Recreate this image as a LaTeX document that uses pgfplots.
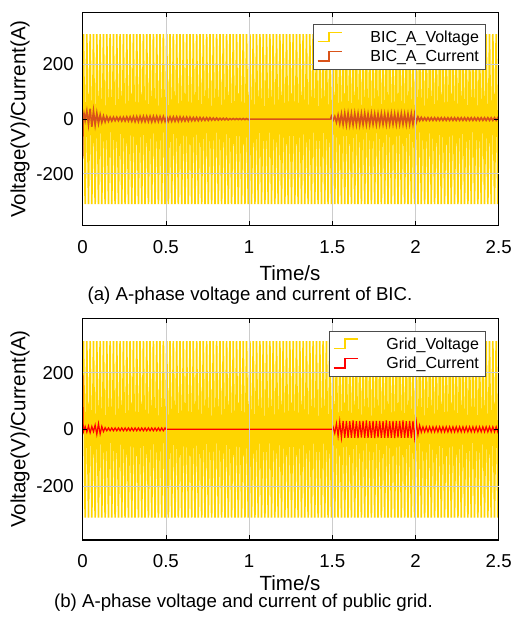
\documentclass[border=0pt]{standalone}
\usepackage{pgfplots}
\pgfplotsset{compat=1.18}
\usepackage{pgfplotstable}
\usepackage{fontspec}
\setmainfont{Liberation Sans}
\definecolor{volt}{RGB}{255,213,0}
\definecolor{bicc}{RGB}{217,83,25}
\definecolor{gridc}{RGB}{255,0,0}

\pgfplotstableread[row sep=\\]{t v\\
0 0\\
0.005 311\\0.015 -311\\0.025 311\\0.035 -311\\0.045 311\\0.055 -311\\0.065 311\\0.075 -311\\0.085 311\\0.095 -311\\
0.105 311\\0.115 -311\\0.125 311\\0.135 -311\\0.145 311\\0.155 -311\\0.165 311\\0.175 -311\\0.185 311\\0.195 -311\\
0.205 311\\0.215 -311\\0.225 311\\0.235 -311\\0.245 311\\0.255 -311\\0.265 311\\0.275 -311\\0.285 311\\0.295 -311\\
0.305 311\\0.315 -311\\0.325 311\\0.335 -311\\0.345 311\\0.355 -311\\0.365 311\\0.375 -311\\0.385 311\\0.395 -311\\
0.405 311\\0.415 -311\\0.425 311\\0.435 -311\\0.445 311\\0.455 -311\\0.465 311\\0.475 -311\\0.485 311\\0.495 -311\\
0.505 311\\0.515 -311\\0.525 311\\0.535 -311\\0.545 311\\0.555 -311\\0.565 311\\0.575 -311\\0.585 311\\0.595 -311\\
0.605 311\\0.615 -311\\0.625 311\\0.635 -311\\0.645 311\\0.655 -311\\0.665 311\\0.675 -311\\0.685 311\\0.695 -311\\
0.705 311\\0.715 -311\\0.725 311\\0.735 -311\\0.745 311\\0.755 -311\\0.765 311\\0.775 -311\\0.785 311\\0.795 -311\\
0.805 311\\0.815 -311\\0.825 311\\0.835 -311\\0.845 311\\0.855 -311\\0.865 311\\0.875 -311\\0.885 311\\0.895 -311\\
0.905 311\\0.915 -311\\0.925 311\\0.935 -311\\0.945 311\\0.955 -311\\0.965 311\\0.975 -311\\0.985 311\\0.995 -311\\
1.005 311\\1.015 -311\\1.025 311\\1.035 -311\\1.045 311\\1.055 -311\\1.065 311\\1.075 -311\\1.085 311\\1.095 -311\\
1.105 311\\1.115 -311\\1.125 311\\1.135 -311\\1.145 311\\1.155 -311\\1.165 311\\1.175 -311\\1.185 311\\1.195 -311\\
1.205 311\\1.215 -311\\1.225 311\\1.235 -311\\1.245 311\\1.255 -311\\1.265 311\\1.275 -311\\1.285 311\\1.295 -311\\
1.305 311\\1.315 -311\\1.325 311\\1.335 -311\\1.345 311\\1.355 -311\\1.365 311\\1.375 -311\\1.385 311\\1.395 -311\\
1.405 311\\1.415 -311\\1.425 311\\1.435 -311\\1.445 311\\1.455 -311\\1.465 311\\1.475 -311\\1.485 311\\1.495 -311\\
1.505 311\\1.515 -311\\1.525 311\\1.535 -311\\1.545 311\\1.555 -311\\1.565 311\\1.575 -311\\1.585 311\\1.595 -311\\
1.605 311\\1.615 -311\\1.625 311\\1.635 -311\\1.645 311\\1.655 -311\\1.665 311\\1.675 -311\\1.685 311\\1.695 -311\\
1.705 311\\1.715 -311\\1.725 311\\1.735 -311\\1.745 311\\1.755 -311\\1.765 311\\1.775 -311\\1.785 311\\1.795 -311\\
1.805 311\\1.815 -311\\1.825 311\\1.835 -311\\1.845 311\\1.855 -311\\1.865 311\\1.875 -311\\1.885 311\\1.895 -311\\
1.905 311\\1.915 -311\\1.925 311\\1.935 -311\\1.945 311\\1.955 -311\\1.965 311\\1.975 -311\\1.985 311\\1.995 -311\\
2.005 311\\2.015 -311\\2.025 311\\2.035 -311\\2.045 311\\2.055 -311\\2.065 311\\2.075 -311\\2.085 311\\2.095 -311\\
2.105 311\\2.115 -311\\2.125 311\\2.135 -311\\2.145 311\\2.155 -311\\2.165 311\\2.175 -311\\2.185 311\\2.195 -311\\
2.205 311\\2.215 -311\\2.225 311\\2.235 -311\\2.245 311\\2.255 -311\\2.265 311\\2.275 -311\\2.285 311\\2.295 -311\\
2.305 311\\2.315 -311\\2.325 311\\2.335 -311\\2.345 311\\2.355 -311\\2.365 311\\2.375 -311\\2.385 311\\2.395 -311\\
2.405 311\\2.415 -311\\2.425 311\\2.435 -311\\2.445 311\\2.455 -311\\2.465 311\\2.475 -311\\2.485 311\\2.495 -311\\
2.5 0\\
}\volt

\pgfplotsset{
  myax/.style={
    axis on top,
    scale only axis, width=312pt,
    xmin=0, xmax=2.5, ymin=-390, ymax=390,
    xtick={0,0.5,1,1.5,2,2.5}, xticklabels={0,0.5,1,1.5,2,2.5},
    ytick={-200,0,200},
    tick align=inside, major tick length=3.5pt,
    xmajorgrids=true,
    extra y ticks={-200,200}, extra y tick labels={},
    extra y tick style={ymajorgrids=true, major tick length=0pt},
    major grid style={black!20, line width=0.5pt},
    axis line style={black, line width=0.8pt},
    tick style={black, line width=0.5pt},
    /pgf/number format/assume math mode=true,
    ticklabel style={font=\fontsize{14}{16}\selectfont, inner sep=0pt},
    xticklabel style={anchor=center, yshift=-16pt},
    yticklabel style={anchor=east, xshift=-6.5pt},
    legend cell align=left,
    legend style={draw=black!70, line width=0.6pt, fill=white,
      font=\fontsize{12}{14}\selectfont,
      inner xsep=3pt, inner ysep=2.5pt, row sep=0.5pt, column sep=19pt,
      at={(rel axis cs:0.9695,0.944)}, anchor=north east},
    legend image code/.code={
      \draw[##1, line width=1pt] (0pt,-3pt) -- (8.5pt,-3pt) -- (8.5pt,4pt) -- (18pt,4pt);
    },
  }
}

\begin{document}
\begin{tikzpicture}

% ---------------- (a) ----------------
\begin{axis}[myax, height=160pt, at={(62pt,-169.3pt)}, anchor=south west]
\addplot[draw=volt, line width=1.25pt] table[x=t, y=v] {\volt};
\addlegendentry{BIC\_A\_Voltage}
\addplot[draw=bicc, line width=1.2pt] coordinates {
(0,-145) (0.003,0) (0.008,20) (0.015,-5) (0.025,30) (0.035,-20) (0.045,38) (0.055,-28) (0.065,30) (0.075,-22)
(0.085,22) (0.095,-16) (0.105,16) (0.115,-12) (0.125,11) (0.135,-10) (0.145,9) (0.155,-8)
(0.165,7) (0.175,-7) (0.185,7) (0.195,-6) (0.205,7) (0.215,-6) (0.225,7) (0.235,-7) (0.245,7) (0.255,-7)
(0.265,8) (0.275,-7) (0.285,8) (0.295,-8)
(0.305,9) (0.315,-9) (0.325,9) (0.335,-9) (0.345,10) (0.355,-9) (0.365,10) (0.375,-9) (0.385,10) (0.395,-9)
(0.405,10) (0.415,-10) (0.425,10) (0.435,-9) (0.445,10) (0.455,-9) (0.465,9) (0.475,-9) (0.485,9) (0.495,-9)
(0.505,9) (0.515,-8) (0.525,8) (0.535,-8) (0.545,8) (0.555,-8) (0.565,8) (0.575,-8) (0.585,8) (0.595,-7)
(0.605,7) (0.615,-7) (0.625,7) (0.635,-7) (0.645,7) (0.655,-6) (0.665,6) (0.675,-6) (0.685,6) (0.695,-6)
(0.705,6) (0.715,-5) (0.725,5) (0.735,-5) (0.745,5) (0.755,-5) (0.765,5) (0.775,-4) (0.785,4) (0.795,-4)
(0.805,4) (0.815,-4) (0.825,3) (0.835,-3) (0.845,3) (0.855,-3) (0.865,3) (0.875,-3) (0.885,2) (0.895,-2)
(0.905,2) (0.915,-2) (0.925,2) (0.935,-2) (0.945,2) (0.955,-2) (0.965,2) (0.975,-2) (0.985,2) (0.995,-2)
(1.0,0) (1.49,0)
(1.495,10) (1.505,-4) (1.515,10) (1.525,-12) (1.535,15) (1.545,-17) (1.555,19) (1.565,-20) (1.575,21) (1.585,-21)
(1.595,21) (1.605,-21) (1.615,20) (1.625,-21) (1.635,21) (1.645,-20) (1.655,20) (1.665,-21) (1.675,20) (1.685,-20)
(1.695,21) (1.705,-20) (1.715,19) (1.725,-20) (1.735,20) (1.745,-19) (1.755,19) (1.765,-20) (1.775,19) (1.785,-19)
(1.795,20) (1.805,-19) (1.815,19) (1.825,-20) (1.835,19) (1.845,-19) (1.855,20) (1.865,-19) (1.875,19) (1.885,-20)
(1.895,19) (1.905,-19) (1.915,20) (1.925,-19) (1.935,19) (1.945,-20) (1.955,19) (1.965,-19) (1.975,20) (1.985,-19)
(1.995,19) (2.005,-12) (2.015,8) (2.025,-6) (2.035,6) (2.045,-5) (2.055,5) (2.065,-5) (2.075,5) (2.085,-5)
(2.095,5) (2.105,-5) (2.115,5) (2.125,-5) (2.135,5) (2.145,-5) (2.155,5) (2.165,-5) (2.175,5) (2.185,-5)
(2.195,5) (2.205,-5) (2.215,5) (2.225,-5) (2.235,5) (2.245,-5) (2.255,5) (2.265,-5) (2.275,5) (2.285,-5)
(2.295,5) (2.305,-5) (2.315,5) (2.325,-5) (2.335,5) (2.345,-5) (2.355,5) (2.365,-5) (2.375,5) (2.385,-5)
(2.395,5) (2.405,-5) (2.415,5) (2.425,-5) (2.435,5) (2.445,-5) (2.455,5) (2.465,-5) (2.475,5) (2.485,-5)
(2.495,5) (2.5,0)
};
\addlegendentry{BIC\_A\_Current}
\end{axis}

% ---------------- (b) ----------------
\begin{axis}[myax, height=166pt, at={(62pt,-405pt)}, anchor=south west]
\addplot[draw=volt, line width=1.25pt] table[x=t, y=v] {\volt};
\addlegendentry{Grid\_Voltage}
\addplot[draw=gridc, line width=0.9pt] coordinates {
(0,190) (0.002,30) (0.004,0) (0.005,-8) (0.015,10) (0.025,-10) (0.035,12) (0.045,-12) (0.055,10) (0.065,-8)
(0.075,15) (0.085,-18) (0.095,20) (0.105,-16) (0.115,10) (0.125,-8) (0.135,6) (0.145,-5)
(0.155,5) (0.165,-5) (0.175,5) (0.185,-5) (0.195,5) (0.205,-5) (0.215,5) (0.225,-5) (0.235,5) (0.245,-5)
(0.255,5) (0.265,-5) (0.275,5) (0.285,-5) (0.295,5) (0.305,-5) (0.315,5) (0.325,-5) (0.335,5) (0.345,-5)
(0.355,5) (0.365,-5) (0.375,5) (0.385,-5) (0.395,5) (0.405,-5) (0.415,5) (0.425,-5) (0.435,5) (0.445,-5)
(0.455,5) (0.465,-5) (0.475,5) (0.485,-5) (0.495,5) (0.5,0) (1.5,0)
(1.505,8) (1.515,-14) (1.525,20) (1.535,-24) (1.545,27) (1.555,-29) (1.565,30) (1.575,-30) (1.585,30) (1.595,-30)
(1.605,29) (1.615,-30) (1.625,31) (1.635,-30) (1.645,29) (1.655,-31) (1.665,30) (1.675,-29) (1.685,30) (1.695,-30)
(1.705,31) (1.715,-30) (1.725,29) (1.735,-30) (1.745,30) (1.755,-31) (1.765,30) (1.775,-29) (1.785,30) (1.795,-30)
(1.805,29) (1.815,-30) (1.825,31) (1.835,-30) (1.845,29) (1.855,-30) (1.865,30) (1.875,-31) (1.885,30) (1.895,-29)
(1.905,30) (1.915,-30) (1.925,31) (1.935,-30) (1.945,29) (1.955,-30) (1.965,30) (1.975,-31) (1.985,30) (1.995,-29)
(2.005,26) (2.015,-20) (2.025,14) (2.035,-10) (2.045,9) (2.055,-9) (2.065,9) (2.075,-9) (2.085,9) (2.095,-9)
(2.105,9) (2.115,-9) (2.125,9) (2.135,-9) (2.145,9) (2.155,-9) (2.165,9) (2.175,-9) (2.185,9) (2.195,-9)
(2.205,9) (2.215,-9) (2.225,9) (2.235,-9) (2.245,9) (2.255,-9) (2.265,9) (2.275,-9) (2.285,9) (2.295,-9)
(2.305,9) (2.315,-9) (2.325,9) (2.335,-9) (2.345,9) (2.355,-9) (2.365,9) (2.375,-9) (2.385,9) (2.395,-9)
(2.405,9) (2.415,-9) (2.425,9) (2.435,-9) (2.445,9) (2.455,-9) (2.465,9) (2.475,-9) (2.485,9) (2.495,-9)
(2.5,0)
};
\addlegendentry{Grid\_Current}
\end{axis}

% labels and captions
\node[rotate=90, font=\fontsize{15.4}{17}\selectfont] at (15pt,-89.3pt) {Voltage(V)/Current(A)};
\node[rotate=90, font=\fontsize{15.4}{17}\selectfont] at (15pt,-321.8pt) {Voltage(V)/Current(A)};
\node[font=\fontsize{15.4}{17}\selectfont] at (217.5pt,-204.8pt) {Time/s};
\node[font=\fontsize{15.4}{17}\selectfont] at (217.5pt,-437.3pt) {Time/s};
\node[font=\fontsize{14}{16}\selectfont] at (187.5pt,-222pt) {(a) A-phase voltage and current of BIC.};
\node[font=\fontsize{14}{16}\selectfont] at (182.6pt,-452.3pt) {(b) A-phase voltage and current of public grid.};
\path (0pt,0pt) rectangle (385.5pt,-471pt);
\end{tikzpicture}
\end{document}
